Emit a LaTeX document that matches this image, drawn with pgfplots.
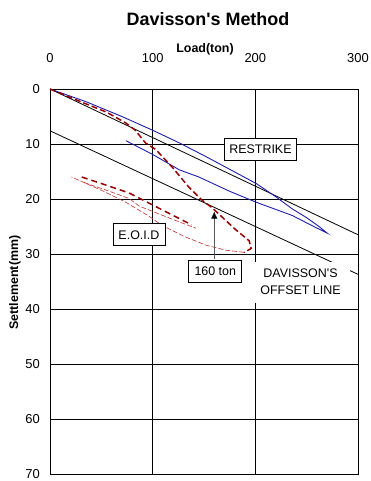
\documentclass[border=0pt]{standalone}
\usepackage{fontspec}
\setmainfont{Liberation Sans}
\usepackage{pgfplots}
\pgfplotsset{compat=1.18}
\usetikzlibrary{arrows.meta}
\definecolor{rsblue}{RGB}{30,30,170}
\definecolor{eoidred}{RGB}{150,0,0}
\definecolor{eoidlight}{RGB}{185,50,50}

\begin{document}
\begin{tikzpicture}
\begin{axis}[name=ax,
  scale only axis, width=308bp, height=385bp,
  xmin=0, xmax=300, ymin=0, ymax=70, y dir=reverse,
  xtick={0,100,200,300}, ytick={0,10,...,70},
  xticklabel pos=upper,
  grid=major, major grid style={black, line width=0.6bp},
  axis line style={black, line width=0.9bp},
  tick style={draw=none},
  /pgf/number format/assume math mode=true,
  ticklabel style={font=\fontsize{13}{13}\selectfont},
  xticklabel style={anchor=base, yshift=27bp},
  yticklabel style={anchor=east, inner sep=0pt, xshift=-10bp},
  clip=false,
]
% elastic line and Davisson offset line
\addplot[black, line width=0.8bp] coordinates {(0,0) (300,26.5)};
\addplot[black, line width=0.8bp] coordinates {(0,7.6) (300,33.7)};

% Restrike
\addplot[rsblue, line width=0.9bp] coordinates {
(0,0) (35,2.3) (70,5) (100,7.5) (126,9.8) (152,12.3) (175,14.6) (201,17.2)
(220,19.6) (236,21.8) (250,23.4) (262,25) (270,26.2)
(259,25.2) (236,23) (201,20.6) (175,18.6) (145,16) (126,14.7) (100,11.9) (74,9.4)};

% E.O.I.D. loading (thick dashed)
\addplot[eoidred, line width=1.5bp, dash pattern=on 6bp off 3bp] coordinates {
(0,0) (31,2.4) (55,4.2) (74,6.2) (83,7.5) (93,9.8) (103,11) (119,14.2) (135,17.8)
(148,20.2) (158,21.6) (170,23.7) (181,25.6) (194,27.6) (196,29) (189,29.7)};
% unloading (thin dashed)
\addplot[eoidlight, line width=0.6bp, dash pattern=on 5bp off 2bp] coordinates {
(189,29.7) (171,29.3) (152,28.4) (132,26.9) (109,24.8) (97,23.2) (74,20.6) (50,18.4) (21,16)};
% second cycle
\addplot[eoidred, line width=1.5bp, dash pattern=on 6bp off 4bp] coordinates {
(31,16) (55,17.5) (77,18.9) (97,20.8) (120,23) (138,24.7)};
\addplot[eoidlight, line width=0.6bp, dash pattern=on 5bp off 2bp] coordinates {
(33,17) (55,18.4) (77,19.9) (87,21.3) (110,23) (125,24.1) (142,25.3)};

% annotations
\node[draw=black, fill=white, line width=0.6bp, inner sep=0pt, minimum width=72bp, minimum height=22bp,
  font=\fontsize{12.5}{12.5}\selectfont] at (axis cs:205,10.9) {RESTRIKE};
\node[draw=black, fill=white, line width=0.6bp, inner sep=0pt, minimum width=52bp, minimum height=22bp,
  font=\fontsize{12.5}{12.5}\selectfont] at (axis cs:86.6,26.5) {E.O.I.D};
\draw[gray!70!black, line width=1.3bp] (axis cs:160,30.9) -- (axis cs:160,23.4);
\draw[black, -{Latex[length=7bp,width=6bp]}, line width=0.1bp] (axis cs:160,23.5) -- (axis cs:160,22.3);
\node[draw=black, fill=white, line width=0.6bp, inner sep=0pt, minimum width=53bp, minimum height=22bp,
  font=\fontsize{12.5}{12.5}\selectfont] at (axis cs:161,33.1) {160 ton};
\node[fill=white, inner sep=0pt, minimum width=98bp, minimum height=41bp, align=center,
  font=\fontsize{12.5}{17}\selectfont] at (axis cs:244,35.1) {DAVISSON\textquotesingle S\\OFFSET LINE};
\end{axis}
\node[anchor=base, font=\fontsize{18}{18}\selectfont\bfseries] at ([xshift=4bp, yshift=63bp]ax.north) {Davisson\textquotesingle s Method};
\node[anchor=base, font=\fontsize{12.5}{12.5}\selectfont\bfseries] at ([xshift=1bp, yshift=36.7bp]ax.north) {Load(ton)};
\node[anchor=base, rotate=90, font=\fontsize{12.5}{12.5}\selectfont\bfseries] at ([xshift=-32bp, yshift=-1bp]ax.west) {Settlement(mm)};
\pgfresetboundingbox
\path ([xshift=-50bp, yshift=-7bp]ax.south west) rectangle ([xshift=12bp, yshift=89bp]ax.north east);
\end{tikzpicture}
\end{document}
